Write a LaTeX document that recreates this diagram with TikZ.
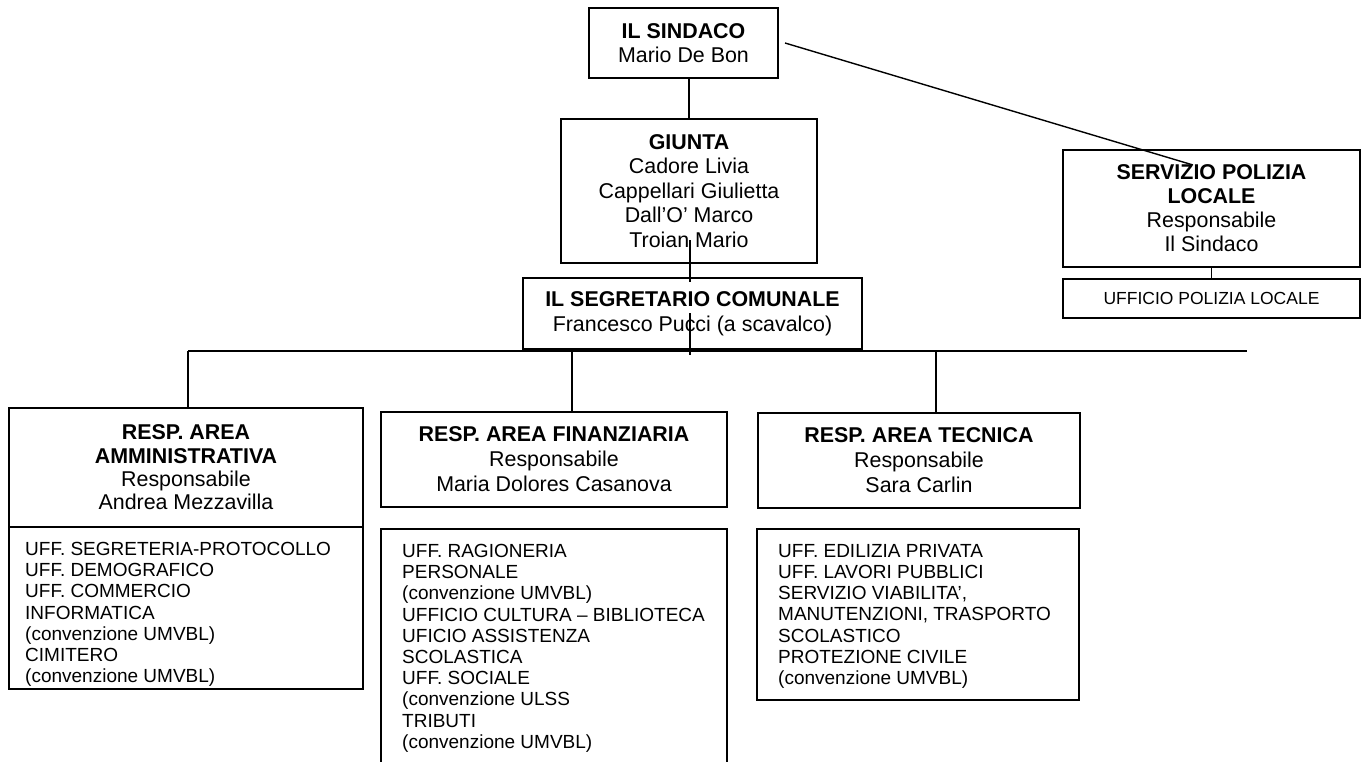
\documentclass[tikz,border=0pt]{standalone}
\usepackage{fontspec}
\setmainfont{Liberation Sans}
\begin{document}
\begin{tikzpicture}[x=1pt,y=-1pt,
  box/.style={draw,line width=1.6pt,rectangle,inner sep=0pt,align=center,font=\fontsize{21.4}{24.5}\selectfont},
  conn/.style={line width=1.4pt},
  listtext/.style={anchor=north west,inner sep=0pt,align=left,font=\fontsize{19}{21.2}\selectfont}]
\useasboundingbox (0,0) rectangle (1365,762);

% top
\node[box,minimum width=189pt,minimum height=70pt] (sindaco) at (683.5,43) {\textbf{IL SINDACO}\\Mario De Bon};
\node[box,minimum width=256pt,minimum height=144pt] (giunta) at (689,191) {\textbf{GIUNTA}\\Cadore Livia\\Cappellari Giulietta\\Dall’O’ Marco\\Troian Mario};
\node[box,minimum width=339pt,minimum height=71pt] (segr) at (692.5,313.5) {\textbf{IL SEGRETARIO COMUNALE}\\Francesco Pucci (a scavalco)};
\node[box,minimum width=297pt,minimum height=117pt,font=\fontsize{21.4}{24}\selectfont] (pol) at (1211.5,208.5) {\textbf{SERVIZIO POLIZIA}\\\textbf{LOCALE}\\Responsabile\\Il Sindaco};
\node[box,minimum width=297pt,minimum height=39pt,font=\fontsize{17.5}{20}\selectfont] (ufpol) at (1211.5,298.5) {UFFICIO POLIZIA LOCALE};

% areas
\node[box,minimum width=354pt,minimum height=119pt,font=\fontsize{21.4}{23.3}\selectfont] (admhead) at (186,467.5) {\textbf{RESP. AREA}\\\textbf{AMMINISTRATIVA}\\Responsabile\\Andrea Mezzavilla};
\node[box,minimum width=354pt,minimum height=162pt] (admlist) at (186,608) {};
\node[listtext] (admtext) at (25,542) {UFF. SEGRETERIA-PROTOCOLLO\\UFF. DEMOGRAFICO\\UFF. COMMERCIO\\INFORMATICA\\(convenzione UMVBL)\\CIMITERO\\(convenzione UMVBL)};

\node[box,minimum width=346pt,minimum height=95pt,font=\fontsize{21.4}{25}\selectfont] (finhead) at (554,459.5) {\textbf{RESP. AREA FINANZIARIA}\\Responsabile\\Maria Dolores Casanova};
\coordinate (finbl) at (381,762);
\coordinate (fintl) at (381,529);
\coordinate (fintr) at (727,529);
\coordinate (finbr) at (727,762);
\draw[line width=1.6pt] (finbl) -- (fintl) -- (fintr) -- (finbr);
\node[listtext] (fintext) at (402,544) {UFF. RAGIONERIA\\PERSONALE\\(convenzione UMVBL)\\UFFICIO CULTURA – BIBLIOTECA\\UFICIO ASSISTENZA\\SCOLASTICA\\UFF. SOCIALE\\(convenzione ULSS\\TRIBUTI\\(convenzione UMVBL)};

\node[box,minimum width=322pt,minimum height=95pt,font=\fontsize{21.4}{25}\selectfont] (techead) at (919,460.5) {\textbf{RESP. AREA TECNICA}\\Responsabile\\Sara Carlin};
\node[box,minimum width=322pt,minimum height=171pt] (teclist) at (918,614.5) {};
\node[listtext] (tectext) at (778,544) {UFF. EDILIZIA PRIVATA\\UFF. LAVORI PUBBLICI\\SERVIZIO VIABILITA’,\\MANUTENZIONI, TRASPORTO\\SCOLASTICO\\PROTEZIONE CIVILE\\(convenzione UMVBL)};

% connectors
\draw[conn] (giunta.north |- sindaco.south) -- (giunta.north);
\coordinate (ga) at (690,240);
\coordinate (gb) at (690,282);
\coordinate (sa) at (690,313);
\coordinate (sb) at (690,355);
\draw[conn] (ga) -- (gb);
\draw[conn] (sa) -- (sb);
\coordinate (busL) at (188,351);
\coordinate (busR) at (1247,351);
\draw[conn] (busL) -- (busR);
\draw[conn] (busL) -- (busL |- admhead.north);
\coordinate (busF) at (572,351);
\draw[conn] (busF) -- (busF |- finhead.north);
\coordinate (busT) at (936,351);
\draw[conn] (busT) -- (busT |- techead.north);
\draw[conn] (pol.south) -- (ufpol.north);
\coordinate (d1) at (785,43);
\coordinate (d2) at (1193,165);
\draw[conn] (d1) -- (d2);
\end{tikzpicture}
\end{document}
